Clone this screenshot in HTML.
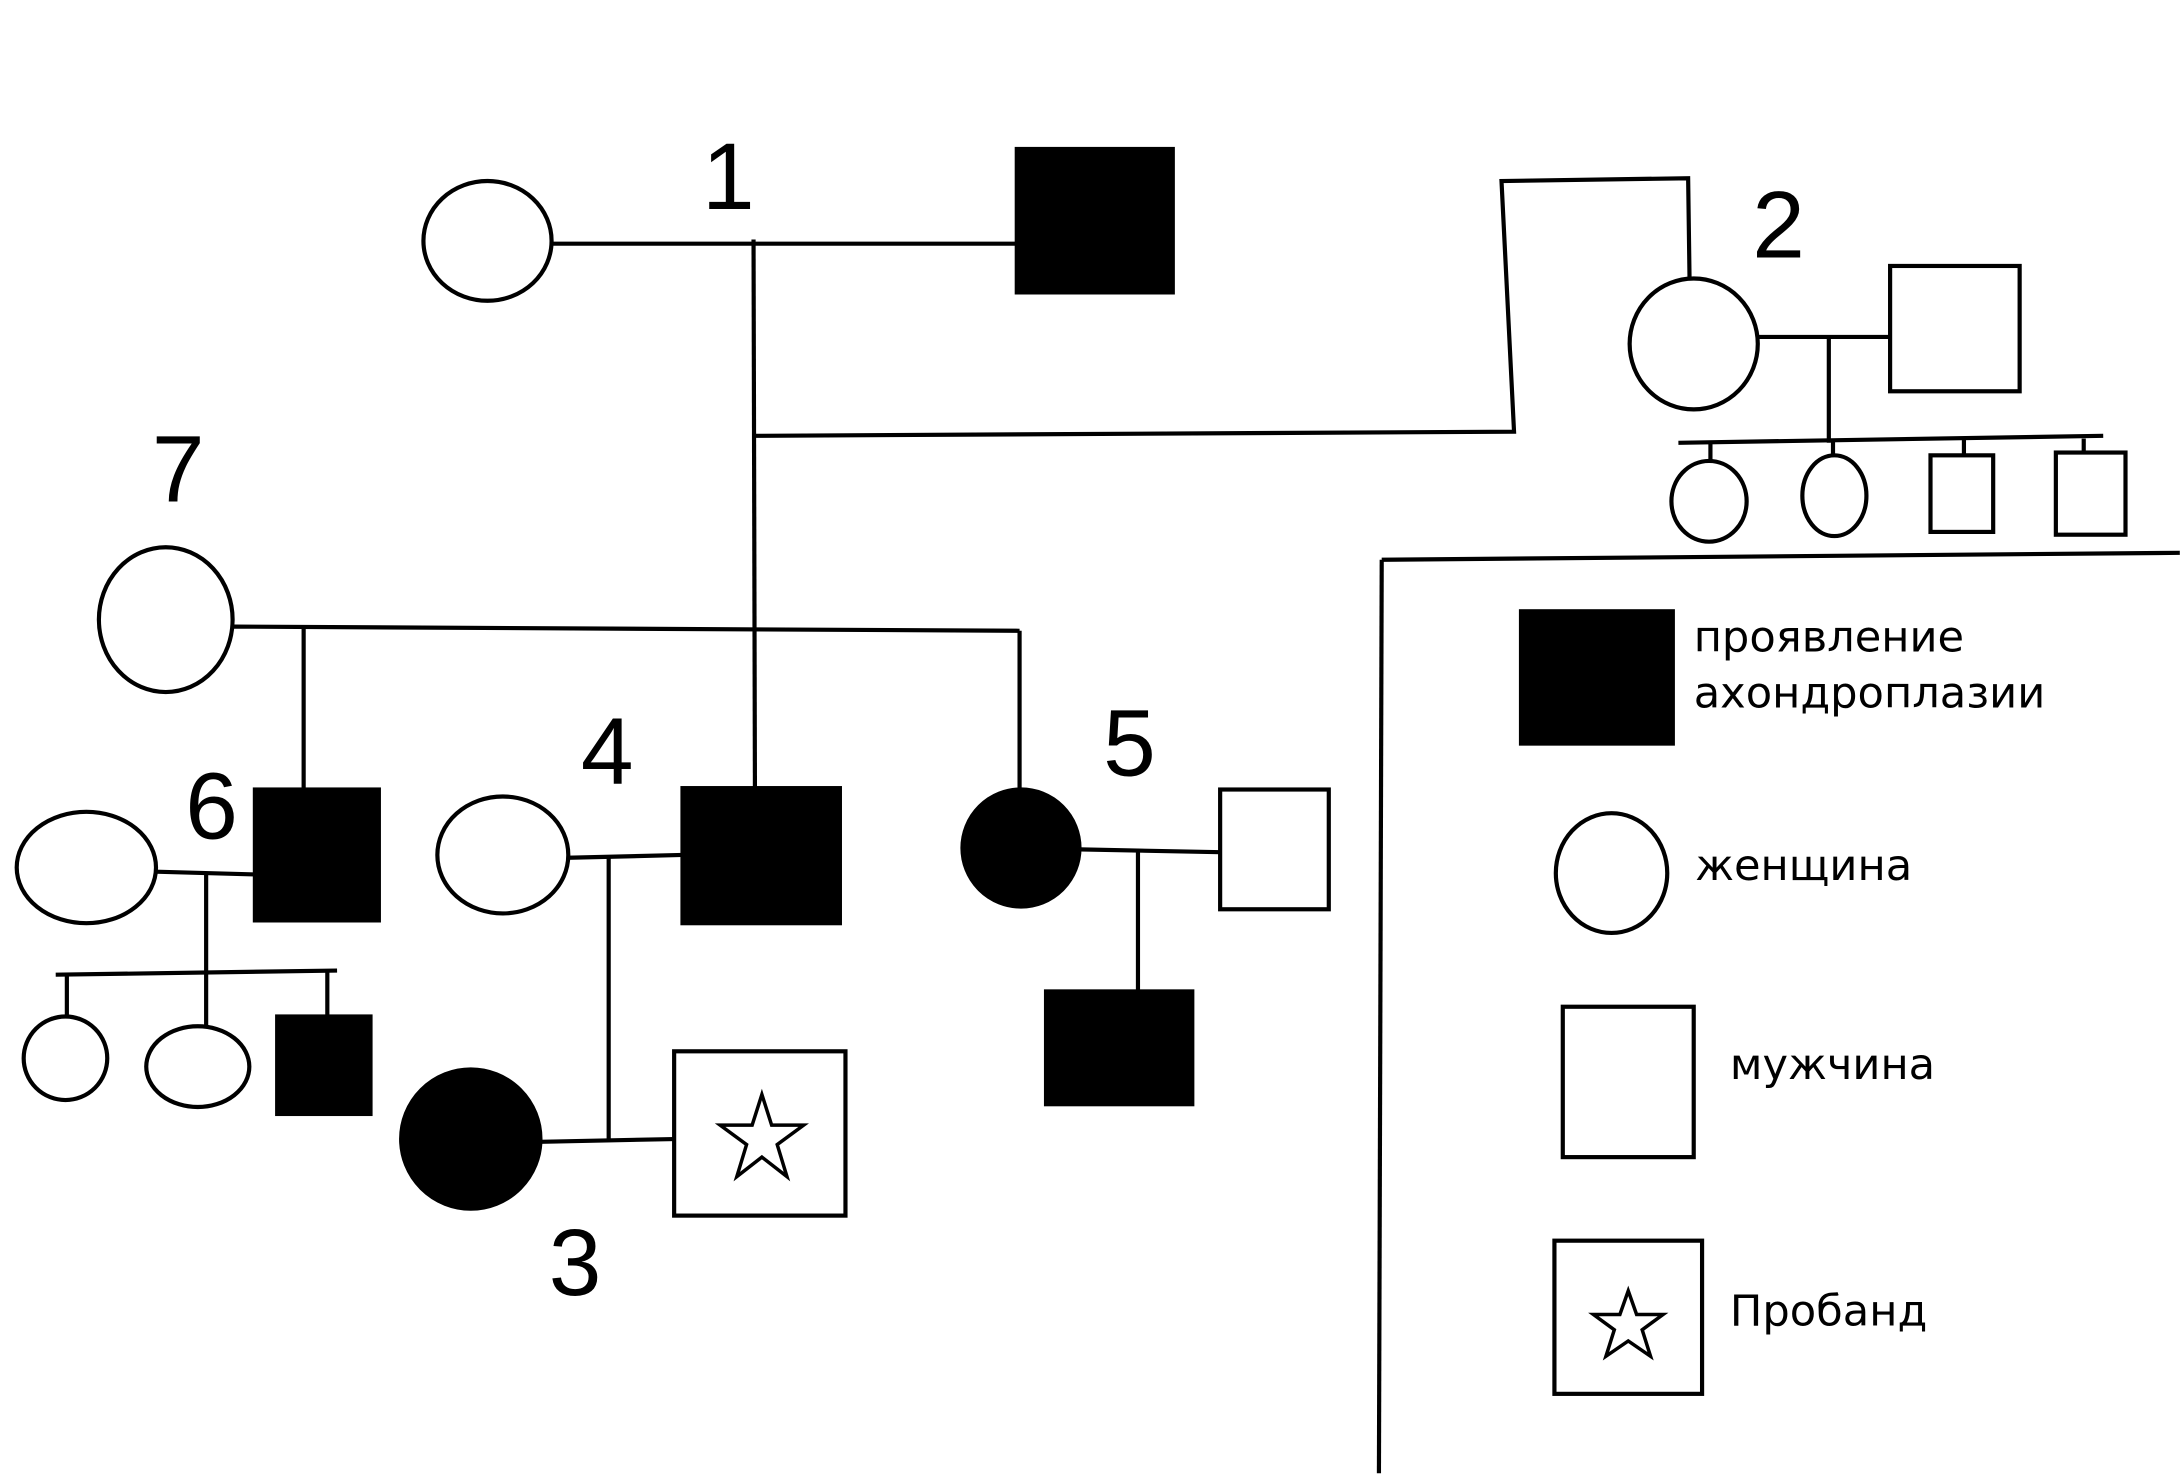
<!DOCTYPE html>
<html><head><meta charset="utf-8">
<style>
html,body{margin:0;padding:0;background:#fff;}
svg{display:block;}
.n{font-family:"Liberation Sans","DejaVu Sans",sans-serif;font-size:68px;}
.l{font-family:"DejaVu Sans","Liberation Sans",sans-serif;font-size:31px;}
</style></head>
<body>
<svg width="2184" height="1476" viewBox="0 0 1568 1060" preserveAspectRatio="none" xmlns="http://www.w3.org/2000/svg">
<rect width="1568" height="1060" fill="#fff"/>
<g stroke="#000" stroke-width="3" fill="none">
<!-- generation 1 -->
<ellipse cx="350" cy="173" rx="46" ry="43"/>
<line x1="396" y1="175" x2="730" y2="175"/>
<rect x="730" y="107" width="112" height="103" fill="#000"/>
<line x1="541" y1="172" x2="542" y2="566"/>
<polyline points="541,313 1087,310 1078,130 1212,128 1213,200"/>
<!-- family 2 -->
<ellipse cx="1216" cy="247" rx="46" ry="47"/>
<line x1="1262" y1="242" x2="1357" y2="242"/>
<rect x="1357" y="191" width="93" height="90"/>
<line x1="1313" y1="242" x2="1313" y2="318"/>
<line x1="1205" y1="318" x2="1510" y2="313"/>
<line x1="1228" y1="318" x2="1228" y2="332"/>
<line x1="1316" y1="317" x2="1316" y2="328"/>
<line x1="1410" y1="316" x2="1410" y2="327"/>
<line x1="1496" y1="315" x2="1496" y2="325"/>
<ellipse cx="1227" cy="360" rx="27" ry="29"/>
<ellipse cx="1317" cy="356" rx="23" ry="29"/>
<rect x="1386" y="327" width="45" height="55"/>
<rect x="1476" y="325" width="50" height="59"/>
<!-- legend border -->
<line x1="992" y1="402" x2="1565" y2="397"/>
<line x1="992" y1="402" x2="990" y2="1058"/>
<!-- legend -->
<rect x="1092" y="439" width="109" height="95" fill="#000"/>
<ellipse cx="1157" cy="627" rx="40" ry="43"/>
<rect x="1122" y="723" width="94" height="108"/>
<rect x="1116" y="891" width="106" height="110"/>
<!-- 7 -->
<ellipse cx="119" cy="445" rx="48" ry="52"/>
<line x1="168" y1="450" x2="732" y2="453"/>
<line x1="732" y1="453" x2="732" y2="567"/>
<line x1="218" y1="450" x2="218" y2="567"/>
<!-- 6 -->
<rect x="183" y="567" width="89" height="94" fill="#000"/>
<ellipse cx="62" cy="623" rx="50" ry="40"/>
<line x1="112" y1="626" x2="183" y2="628"/>
<line x1="148" y1="628" x2="148" y2="737"/>
<line x1="40" y1="700" x2="242" y2="697"/>
<line x1="48" y1="700" x2="48" y2="730"/>
<line x1="235" y1="697" x2="235" y2="730"/>
<circle cx="47" cy="760" r="30"/>
<ellipse cx="142" cy="766" rx="37" ry="29"/>
<rect x="199" y="730" width="67" height="70" fill="#000"/>
<!-- 4 -->
<ellipse cx="361" cy="614" rx="47" ry="42"/>
<line x1="408" y1="616" x2="490" y2="614"/>
<rect x="490" y="566" width="113" height="97" fill="#000"/>
<line x1="437" y1="616" x2="437" y2="820"/>
<line x1="388" y1="820" x2="484" y2="818"/>
<circle cx="338" cy="818" r="50" fill="#000"/>
<rect x="484" y="755" width="123" height="118"/>
<!-- 5 -->
<circle cx="733" cy="609" r="42" fill="#000"/>
<line x1="775" y1="610" x2="876" y2="612"/>
<rect x="876" y="567" width="78" height="86"/>
<line x1="817" y1="612" x2="817" y2="712"/>
<rect x="751" y="712" width="105" height="81" fill="#000"/>
</g>
<g stroke="#000" stroke-width="2.5" fill="none" stroke-linejoin="miter">
<polygon points="547,786 554,808 577,808 558,822 565,845 547,831 529,845 536,822 517,808 540,808"/>
<polygon points="1169,927 1175,944 1194,944 1179,955 1185,974 1169,963 1153,974 1159,955 1144,944 1163,944"/>
</g>
<g class="n" fill="#000">
<text x="504" y="150">1</text>
<text x="1258" y="185">2</text>
<text x="109" y="360">7</text>
<text x="133" y="602">6</text>
<text x="417" y="563">4</text>
<text x="792" y="557">5</text>
<text x="394" y="930">3</text>
</g>
<g class="l" fill="#000">
<text x="1216" y="468">проявление</text>
<text x="1216" y="508">ахондроплазии</text>
<text x="1217" y="632">женщина</text>
<text x="1242" y="775">мужчина</text>
<text x="1242" y="952">Пробанд</text>
</g>
</svg>
</body></html>
